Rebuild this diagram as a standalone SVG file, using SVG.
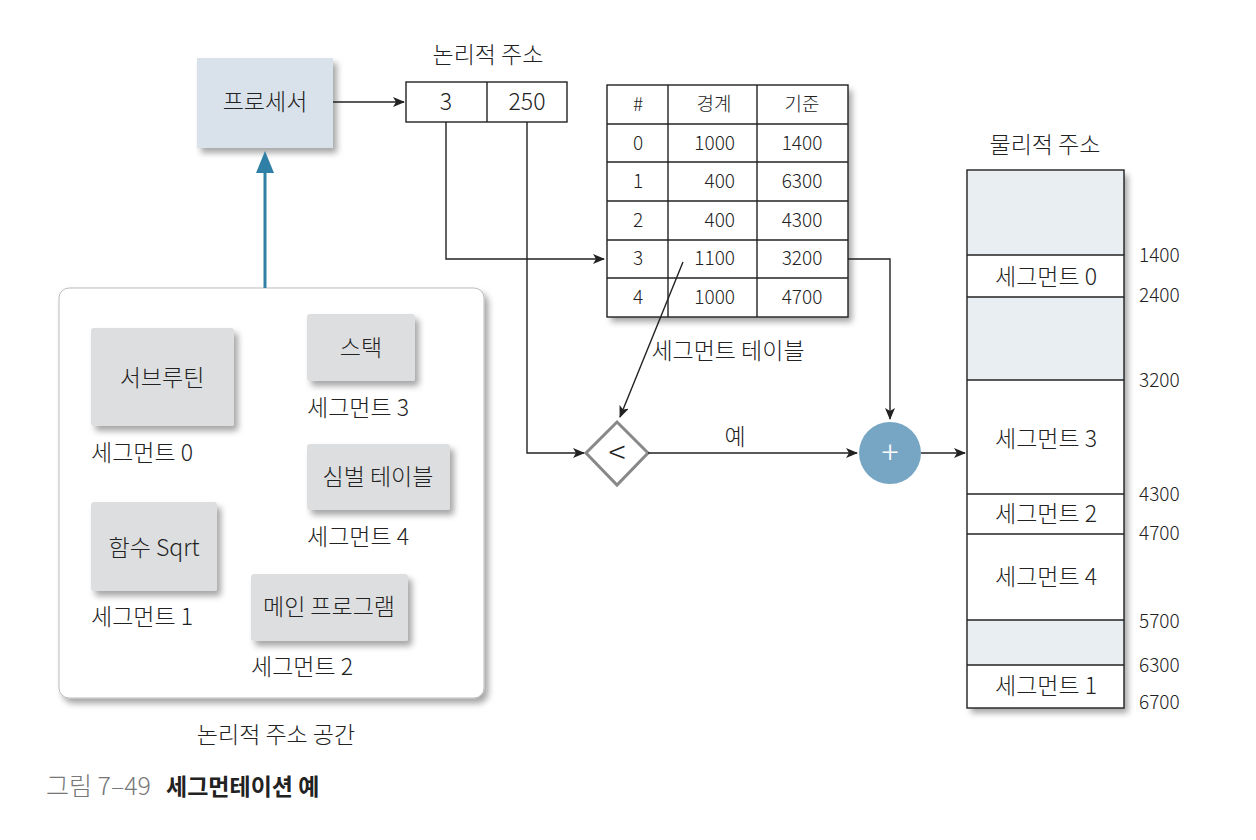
<svg xmlns="http://www.w3.org/2000/svg" width="1256" height="840" viewBox="0 0 1256 840">
<defs>
<filter id="sh" x="-20%" y="-20%" width="150%" height="150%">
<feDropShadow dx="4" dy="5" stdDeviation="3" flood-color="#000" flood-opacity="0.35"/>
</filter>
<marker id="ah" markerWidth="12" markerHeight="10" refX="11" refY="5" orient="auto" markerUnits="userSpaceOnUse">
<path d="M0,0 L12,5 L0,10 L3,5 Z" fill="#222"/>
</marker>
<marker id="bh" markerWidth="22" markerHeight="18" refX="11" refY="9" orient="auto" markerUnits="userSpaceOnUse">
<path d="M0,0 L22,9 L0,18 Z" fill="#2f7fa6"/>
</marker>
<style>
text{font-family:"Noto Sans CJK KR","Noto Sans",sans-serif;fill:#222;font-weight:300;}
.t20{font-size:23px;}
.t17{font-size:19px;}
.c{text-anchor:middle;}
.seg{fill:#dddedf;filter:url(#sh);}
.ln{fill:none;stroke:#222;stroke-width:1.4;}
.cell{fill:none;stroke:#222;stroke-width:1.4;}
</style>
</defs>

<g id="processor">
<rect x="197" y="58" width="136" height="90" fill="#d9e2eb" filter="url(#sh)"/>
<text x="265" y="110" class="t20 c">프로세서</text>
</g>

<g id="logical-address">
<text x="488" y="63" class="t20 c">논리적 주소</text>
<rect x="406" y="82" width="161" height="40" fill="#fff" stroke="#222" stroke-width="1.4"/>
<line x1="487" y1="82" x2="487" y2="122" stroke="#222" stroke-width="1.4"/>
<text x="446" y="110" class="t20 c">3</text>
<text x="527" y="110" class="t20 c">250</text>
</g>

<g id="segment-table">
<rect x="607" y="85" width="241" height="232" fill="#fff" filter="url(#sh)"/>
<rect x="607" y="85" width="241" height="232" class="cell"/>
<line x1="668" y1="85" x2="668" y2="317" class="cell"/>
<line x1="757" y1="85" x2="757" y2="317" class="cell"/>
<line x1="607" y1="124" x2="848" y2="124" class="cell"/>
<line x1="607" y1="162" x2="848" y2="162" class="cell"/>
<line x1="607" y1="201" x2="848" y2="201" class="cell"/>
<line x1="607" y1="240" x2="848" y2="240" class="cell"/>
<line x1="607" y1="278" x2="848" y2="278" class="cell"/>
<g class="t17">
<text x="638" y="111" class="c">#</text><text x="714" y="111" class="c">경계</text><text x="802" y="111" class="c">기준</text>
<text x="638" y="150" class="c">0</text><text x="735" y="150" text-anchor="end">1000</text><text x="802" y="150" class="c">1400</text>
<text x="638" y="188" class="c">1</text><text x="735" y="188" text-anchor="end">400</text><text x="802" y="188" class="c">6300</text>
<text x="638" y="227" class="c">2</text><text x="735" y="227" text-anchor="end">400</text><text x="802" y="227" class="c">4300</text>
<text x="638" y="265" class="c">3</text><text x="735" y="265" text-anchor="end">1100</text><text x="802" y="265" class="c">3200</text>
<text x="638" y="304" class="c">4</text><text x="735" y="304" text-anchor="end">1000</text><text x="802" y="304" class="c">4700</text>
</g>
<text x="728" y="359" class="t20 c">세그먼트 테이블</text>
</g>

<g id="compare">
<polygon points="617,422 648,453 617,485 586,453" fill="#fff" stroke="#888" stroke-width="3"/>
<text x="617" y="464" class="c" style="font-size:32px">&lt;</text>
</g>

<g id="adder">
<circle cx="890" cy="453" r="31" fill="#77a6c4"/>
<text x="890" y="464" class="c" style="fill:#fff;font-size:32px">+</text>
</g>

<g id="physical-memory">
<text x="1045" y="153" class="t20 c">물리적 주소</text>
<rect x="967" y="170" width="157" height="538" fill="#fff" filter="url(#sh)"/>
<rect x="967" y="170" width="157" height="85" fill="#e9eef3"/>
<rect x="967" y="297" width="157" height="83" fill="#e9eef3"/>
<rect x="967" y="620" width="157" height="45" fill="#e9eef3"/>
<rect x="967" y="170" width="157" height="538" class="cell"/>
<line x1="967" y1="255" x2="1124" y2="255" class="cell"/>
<line x1="967" y1="297" x2="1124" y2="297" class="cell"/>
<line x1="967" y1="380" x2="1124" y2="380" class="cell"/>
<line x1="967" y1="494" x2="1124" y2="494" class="cell"/>
<line x1="967" y1="534" x2="1124" y2="534" class="cell"/>
<line x1="967" y1="620" x2="1124" y2="620" class="cell"/>
<line x1="967" y1="665" x2="1124" y2="665" class="cell"/>
<text x="1046" y="285" class="t20 c">세그먼트 0</text>
<text x="1046" y="447" class="t20 c">세그먼트 3</text>
<text x="1046" y="522" class="t20 c">세그먼트 2</text>
<text x="1046" y="585" class="t20 c">세그먼트 4</text>
<text x="1046" y="694" class="t20 c">세그먼트 1</text>
<g class="t17">
<text x="1139" y="262">1400</text>
<text x="1139" y="302">2400</text>
<text x="1139" y="387">3200</text>
<text x="1139" y="501">4300</text>
<text x="1139" y="540">4700</text>
<text x="1139" y="628">5700</text>
<text x="1139" y="672">6300</text>
<text x="1139" y="709">6700</text>
</g>
</g>

<g id="logical-space">
<rect x="59" y="288" width="425" height="410" rx="10" fill="#fff" stroke="#bbb" stroke-width="1" filter="url(#sh)"/>
<text x="276" y="743" class="t20 c">논리적 주소 공간</text>
</g>
<g id="seg-subroutine">
<rect x="91" y="328" width="143" height="98" rx="3" class="seg"/>
<text x="162" y="386" class="t20 c">서브루틴</text>
<text x="91" y="461" class="t20">세그먼트 0</text>
</g>
<g id="seg-stack">
<rect x="307" y="314" width="108" height="67" rx="3" class="seg"/>
<text x="361" y="356" class="t20 c">스택</text>
<text x="307" y="416" class="t20">세그먼트 3</text>
</g>
<g id="seg-symbol">
<rect x="307" y="444" width="143" height="66" rx="3" class="seg"/>
<text x="378" y="485" class="t20 c">심벌 테이블</text>
<text x="307" y="545" class="t20">세그먼트 4</text>
</g>
<g id="seg-sqrt">
<rect x="91" y="502" width="126" height="89" rx="3" class="seg"/>
<text x="154" y="556" class="t20 c">함수 Sqrt</text>
<text x="91" y="625" class="t20">세그먼트 1</text>
</g>
<g id="seg-main">
<rect x="251" y="574" width="157" height="67" rx="3" class="seg"/>
<text x="329" y="615" class="t20 c">메인 프로그램</text>
<text x="251" y="675" class="t20">세그먼트 2</text>
</g>

<g id="connectors">
<line x1="265" y1="288" x2="265" y2="162" stroke="#2f7fa6" stroke-width="3" marker-end="url(#bh)"/>
<line x1="333" y1="102" x2="404" y2="102" class="ln" marker-end="url(#ah)"/>
<polyline points="446,122 446,259 604,259" class="ln" marker-end="url(#ah)"/>
<polyline points="527,122 527,453 584,453" class="ln" marker-end="url(#ah)"/>
<line x1="683" y1="262" x2="620" y2="417" class="ln" marker-end="url(#ah)"/>
<polyline points="848,259 890,259 890,419" class="ln" marker-end="url(#ah)"/>
<line x1="648" y1="453" x2="857" y2="453" class="ln" marker-end="url(#ah)"/>
<line x1="921" y1="453" x2="965" y2="453" class="ln" marker-end="url(#ah)"/>
<text x="735" y="445" class="t20 c">예</text>
</g>

<g id="caption">
<text x="46" y="795" style="fill:#777;font-size:25px">그림 7–49</text>
<text x="166" y="795" class="t20" style="font-weight:bold">세그먼테이션 예</text>
</g>
</svg>
